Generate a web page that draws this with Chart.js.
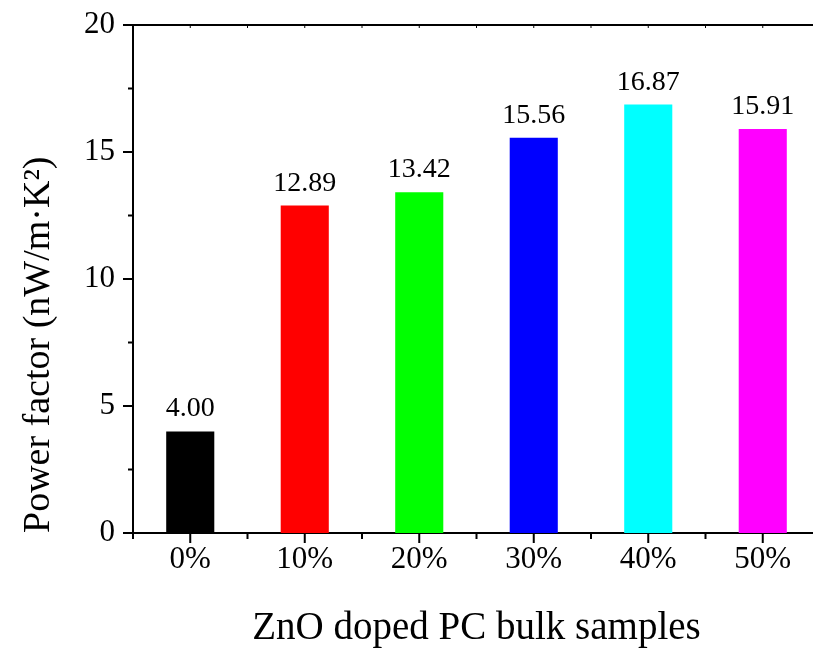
<!DOCTYPE html>
<html lang="en">
<head>
    <meta charset="UTF-8">
    <meta name="viewport" content="width=device-width, initial-scale=1.0">
    <script src="https://cdn.jsdelivr.net/npm/chart.js@4"></script>
    <title>Power factor of ZnO doped PC</title>
    <style>
        html, body { margin: 0; padding: 0; background: #fff; overflow: hidden; }
        #wrap { width: 820px; height: 650px; }
    </style>
</head>
<body>
    <div id="wrap"><canvas id="pfChart"></canvas></div>
    <script>
        const samples = ['0%', '10%', '20%', '30%', '40%', '50%'];
        const powerFactor = [4.00, 12.89, 13.42, 15.56, 16.87, 15.91];
        const barColors = ['#000000', '#ff0000', '#00ff00', '#0000ff', '#00ffff', '#ff00ff'];
        const yMajor = [0, 5, 10, 15, 20];
        const yMinor = [2.5, 7.5, 12.5, 17.5];

        const serif = '"Liberation Serif", "Times New Roman", serif';

        // numbers printed over each bar
        const valueLabels = {
            id: 'valueLabels',
            afterDatasetsDraw(chart) {
                const ctx = chart.ctx;
                const meta = chart.getDatasetMeta(0);
                ctx.save();
                ctx.font = '28px ' + serif;
                ctx.fillStyle = '#000';
                ctx.textAlign = 'center';
                ctx.textBaseline = 'alphabetic';
                meta.data.forEach((bar, i) => {
                    ctx.fillText(powerFactor[i].toFixed(2), bar.x, bar.y - 15);
                });
                ctx.restore();
            }
        };

        // top frame line plus major/minor tick marks
        const axisTicks = {
            id: 'axisTicks',
            afterDraw(chart) {
                const { ctx, chartArea: a, scales: { x, y } } = chart;
                const half = (x.getPixelForTick(1) - x.getPixelForTick(0)) / 2;
                ctx.save();
                ctx.strokeStyle = '#000';
                ctx.lineWidth = 2;
                ctx.beginPath();
                ctx.moveTo(a.left - 1, a.top);
                ctx.lineTo(a.right, a.top);
                // y ticks, outward
                yMajor.forEach(v => {
                    const py = y.getPixelForValue(v);
                    ctx.moveTo(a.left - 10, py);
                    ctx.lineTo(a.left, py);
                });
                yMinor.forEach(v => {
                    const py = y.getPixelForValue(v);
                    ctx.moveTo(a.left - 5, py);
                    ctx.lineTo(a.left, py);
                });
                // x ticks, outward
                samples.forEach((s, i) => {
                    const px = x.getPixelForTick(i);
                    ctx.moveTo(px, a.bottom);
                    ctx.lineTo(px, a.bottom + 10);
                    ctx.moveTo(px - half, a.bottom);
                    ctx.lineTo(px - half, a.bottom + 6);
                });
                ctx.stroke();
                // small inward ticks along the top
                ctx.lineWidth = 1;
                ctx.beginPath();
                samples.forEach((s, i) => {
                    const px = x.getPixelForTick(i);
                    ctx.moveTo(px, a.top);
                    ctx.lineTo(px, a.top + 3);
                    ctx.moveTo(px + half, a.top);
                    ctx.lineTo(px + half, a.top + 3);
                });
                ctx.stroke();
                ctx.restore();
            }
        };

        new Chart(document.getElementById('pfChart'), {
            type: 'bar',
            data: {
                labels: samples,
                datasets: [{
                    data: powerFactor,
                    backgroundColor: barColors,
                    borderWidth: 0,
                    barPercentage: 1,
                    categoryPercentage: 0.42
                }]
            },
            options: {
                responsive: true,
                maintainAspectRatio: false,
                animation: false,
                layout: { padding: { top: 25, left: 0, right: 0, bottom: 0 } },
                plugins: {
                    legend: { display: false },
                    tooltip: { enabled: false }
                },
                scales: {
                    x: {
                        grid: { display: false, drawTicks: false },
                        border: { display: true, color: '#000', width: 2 },
                        ticks: { color: '#000', font: { family: serif, size: 31 }, padding: 8 },
                        title: {
                            display: true,
                            text: 'ZnO doped PC bulk samples',
                            color: '#000',
                            font: { family: serif, size: 39 },
                            padding: { top: 0, bottom: -2 }
                        },
                        afterFit(s) { s.height = 117; }
                    },
                    y: {
                        min: 0,
                        max: 20,
                        grid: { display: false, drawTicks: false },
                        border: { display: true, color: '#000', width: 2 },
                        ticks: { stepSize: 5, color: '#000', font: { family: serif, size: 31 }, padding: 18 },
                        title: {
                            display: true,
                            text: 'Power factor (nW/m·K²)',
                            align: 'start',
                            color: '#000',
                            font: { family: serif, size: 38 },
                            padding: { top: 16, bottom: 0 }
                        },
                        afterFit(s) {
                            s.width = 133;
                            // label overhang is covered by the layout padding
                            s.paddingTop = 0;
                            s.paddingBottom = 0;
                        }
                    }
                }
            },
            plugins: [valueLabels, axisTicks]
        });
    </script>
</body>
</html>
